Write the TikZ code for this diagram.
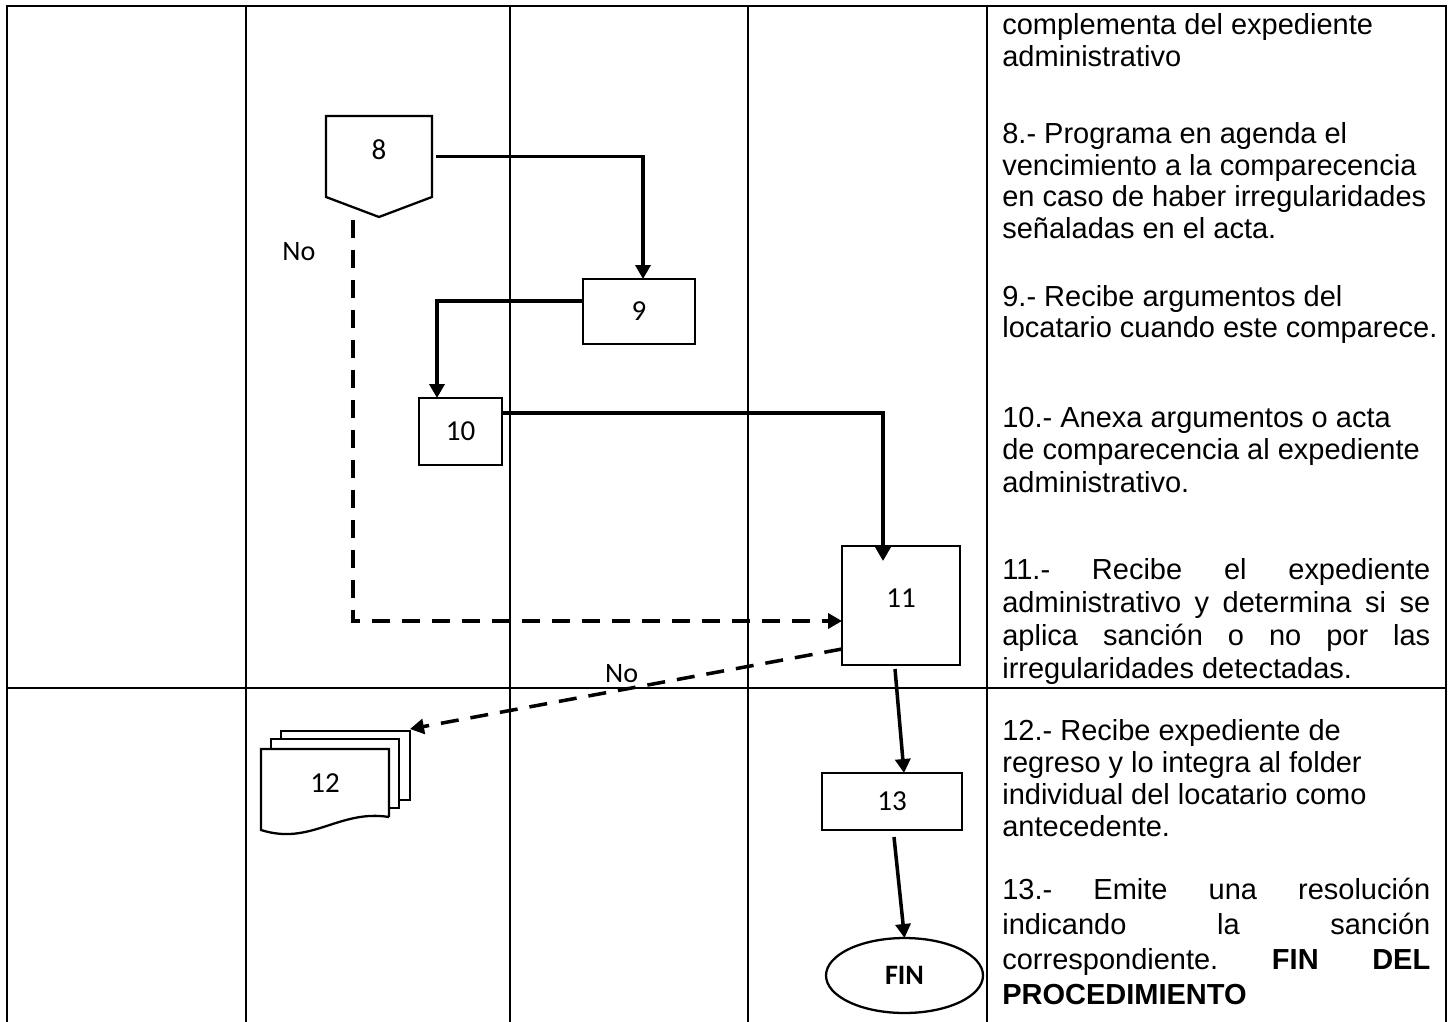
\documentclass[tikz,border=0pt]{standalone}
\usepackage{fontspec}
\setmainfont{Liberation Sans}
\newfontfamily\calibri{Carlito}
\usetikzlibrary{arrows.meta,shapes.geometric}

\tikzset{
  linea/.style={line width=1.1pt, line cap=rect},
  caja/.style={draw, line width=1.3pt, inner sep=0pt, outer sep=0pt,
    font=\calibri\fontsize{16.5}{19}\selectfont},
  hoja/.style={line width=1.3pt, line join=miter},
  flujo/.style={line width=2pt, -{Triangle[length=0.28cm,width=0.3cm]}},
  flujono/.style={flujo, dash pattern=on 0.36cm off 0.24cm},
  etiq/.style={font=\calibri\fontsize{16}{19}\selectfont},
  paso/.style={anchor=north west, inner sep=0pt, align=left,
    font=\fontsize{16.5}{#1}\selectfont\frenchspacing},
  pasoj/.style={paso=#1, align=justify, text width=8.56cm}
}

\begin{document}
\begin{tikzpicture}[x=0.02cm, y=-0.02cm]
    \useasboundingbox (0,0) rectangle (1452,1021);

    % 绘制表格
    \draw[linea] (7,6) -- (1446,6);
    \draw[linea] (7,688) -- (1446,688);
    \foreach \x in {7,246,510,748,987,1446}
        \draw[linea] (\x,6) -- (\x,1021);

    % 流程节点
    \node[caja, draw=none, minimum width=2.12cm, minimum height=1.62cm, anchor=north] (n8) at (379,116) {\raisebox{0.29cm}{8}};
    \draw[hoja] (n8.north west) -- (n8.north east) -- (n8.south east) -- ([yshift=-0.4cm]n8.south) -- (n8.south west) -- cycle;
    \node[caja, minimum width=2.24cm, minimum height=1.3cm] (n9) at (639,311.5) {9};
    \node[caja, minimum width=1.66cm, minimum height=1.34cm] (n10) at (460.5,431.5) {10};
    \node[caja, minimum width=2.36cm, minimum height=2.38cm] (n11) at (901,605.5) {\raisebox{0.3cm}{11}};
    \node[caja, draw=none, minimum width=2.56cm, minimum height=1.36cm] (n12) at (325,783) {12};
    \node[caja, minimum width=2.8cm, minimum height=1.14cm] (n13) at (892,801.5) {13};
    \node[caja, ellipse, minimum width=3.14cm, minimum height=1.5cm, font=\calibri\bfseries\fontsize{16}{19}\selectfont] (fin) at (904.5,975.5) {FIN};

    % 多页文档 12
    \draw[hoja] ([shift={(20,-10)}]n12.north west) |- ([shift={(21,-18)}]n12.north east) -- ([shift={(21,51)}]n12.north east) -- ++(-11,0);
    \draw[hoja] ([shift={(10,0)}]n12.north west) |- ([shift={(10,-10)}]n12.north east) -- ([shift={(10,59)}]n12.north east) -- ++(-10,0);
    \draw[hoja] (n12.south east) -- (n12.north east) -- (n12.north west) -- ([yshift=-0.26cm]n12.south west)
        .. controls +(50,16) and +(-50,-8) .. (n12.south east);
    \coordinate (doc12) at ([shift={(21,-20)}]n12.north east);

    % 连接箭头
    \draw[flujo] ([xshift=0.08cm]n8.east) -| ([xshift=0.08cm]n9.north);
    \draw[flujo] ([yshift=0.21cm]n9.west) -| ([xshift=0.36cm]n10.north west);
    \draw[flujo, shorten >=-0.3cm] ([yshift=0.37cm]n10.east) -| ([xshift=-0.36cm]n11.north);
    \draw[flujono] ([xshift=0.54cm,yshift=-0.46cm]n8.south west) |- ([yshift=-0.31cm]n11.west)
        node[etiq, pos=0.04, left=0.6cm] {No};
    \draw[flujono] ([yshift=-0.87cm]n11.west) -- (doc12) node[etiq, pos=0.51, above] {No};
    \draw[flujo] ([xshift=-0.12cm,yshift=-0.08cm]n11.south) -- ([xshift=0.24cm]n13.north);
    \draw[flujo] ([xshift=0.04cm,yshift=-0.14cm]n13.south) -- (fin.north);

    % 说明文字
    \node[paso=17.9pt] (t7) at (1002,13.5) {complementa del expediente\\administrativo};
    \node[paso=17.9pt] (t8) at (1002,122.5) {8.- Programa en agenda el\\vencimiento a la comparecencia\\en caso de haber irregularidades\\señaladas en el acta.};
    \node[paso=17.6pt] (t9) at (1002,285) {9.- Recibe argumentos del\\locatario cuando este comparece.};
    \node[paso=18.7pt] (t10) at (1002,406.5) {10.- Anexa argumentos o acta\\de comparecencia al expediente\\administrativo.};
    \node[pasoj=18.9pt] (t11) at (1002,558) {\noindent 11.- Recibe el expediente\linebreak administrativo y determina si se\linebreak aplica sanción o no por las\linebreak irregularidades detectadas.};
    \node[paso=18.2pt] (t12) at (1002,719.5) {12.- Recibe expediente de\\regreso y lo integra al folder\\individual del locatario como\\antecedente.};
    \node[pasoj=19.9pt] (t13) at (1002,878) {\noindent 13.- Emite una resolución\linebreak indicando la sanción\linebreak correspondiente. \textbf{FIN} \textbf{DEL}\linebreak \textbf{PROCEDIMIENTO}};
\end{tikzpicture}
\end{document}
